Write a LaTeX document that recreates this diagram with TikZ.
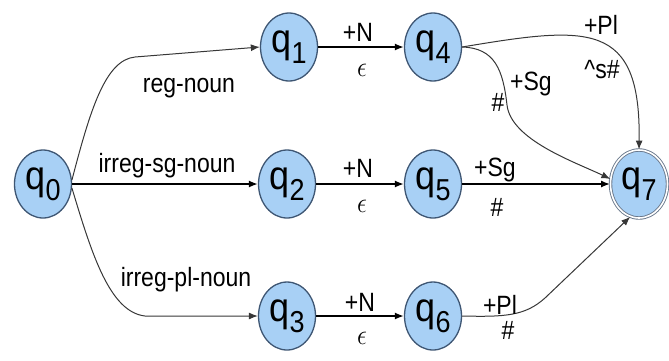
\documentclass[tikz,border=0pt]{standalone}
\usepackage{fontspec}
\setmainfont{Liberation Sans}
\usetikzlibrary{shapes.geometric,arrows.meta}
\definecolor{nodefill}{RGB}{168,208,245}
\definecolor{nodeline}{RGB}{62,86,115}
\definecolor{ringline}{RGB}{105,120,140}
\definecolor{curveline}{RGB}{55,55,55}
\newcommand\qsub[1]{\scalebox{1}[1.12]{\fontsize{36}{36}\selectfont q\raisebox{-10pt}{\fontsize{27}{27}\selectfont #1}}}
\newcommand\tall[1]{\scalebox{1}[1.15]{#1}}
\begin{document}
\begin{tikzpicture}[x=1pt,y=-1pt,
 state/.style={ellipse, draw=nodeline, line width=1.3pt, fill=nodefill, minimum width=57pt, minimum height=68pt, inner sep=0pt},
 accept/.style={state, draw=ringline, double=white, double distance=1.6pt, line width=0.9pt},
 lab/.style={font=\fontsize{23}{23}\selectfont, inner sep=0pt},
 straight/.style={line width=1.5pt, -{Latex[length=9pt,width=7pt]}},
 curvy/.style={line width=1pt, curveline, -{Latex[length=9pt,width=7pt]}}
]
\useasboundingbox (0,0) rectangle (669,360);
\node[state] (q0) at (43,184) {\qsub{0}};
\node[state] (q1) at (289,47) {\qsub{1}};
\node[state] (q2) at (287,184) {\qsub{2}};
\node[state] (q3) at (287,316) {\qsub{3}};
\node[state] (q4) at (433,47) {\qsub{4}};
\node[state] (q5) at (433,184) {\qsub{5}};
\node[state] (q6) at (433,316) {\qsub{6}};
\node[accept] (q7) at (639,184) {\qsub{7}};

\draw[straight] (q0) -- (q2);
\draw[straight] (q1) -- (q4);
\draw[straight] (q2) -- (q5);
\draw[straight] (q3) -- (q6);
\draw[straight] (q5) -- (q7);

\draw[curvy] (q0.8) .. controls (90,111) and (105,60) .. (135,57) -- (q1.west);
\draw[curvy] (q0.-8) .. controls (92,255) and (110,312) .. (145,316) -- (q3.west);
\draw[curvy] (q4.east) .. controls (588,26) and (641,20) .. (q7.north);
\draw[curvy] (q4.east) .. controls (495,48) and (503,70) .. (507,105) .. controls (511,140) and (575,162) .. (q7.170);
\draw[curvy] (q6.east) .. controls (505,317) and (525,316) .. (545,298) -- (q7.255);

\node[lab] (l01) at (189,88) {\tall{reg-noun}};
\node[lab] (l02) at (167,166) {\tall{irreg-sg-noun}};
\node[lab] (l03) at (186,280) {\tall{irreg-pl-noun}};
\node[lab] (n14) at (358,32) {\tall{+N}};
\node[lab] (e14) at (362,70) {\tall{$\epsilon$}};
\node[lab] (n25) at (358,168) {\tall{+N}};
\node[lab] (e25) at (362,206) {\tall{$\epsilon$}};
\node[lab] (n36) at (360,302) {\tall{+N}};
\node[lab] (e36) at (362,338) {\tall{$\epsilon$}};
\node[lab] (pl47) at (601,25) {\tall{+Pl}};
\node[lab] (s47) at (602,70) {\tall{\textasciicircum s\#}};
\node[lab] (sg47) at (531,84) {\tall{+Sg}};
\node[lab] (h47) at (498,102) {\tall{\#}};
\node[lab] (sg57) at (495,170) {\tall{+Sg}};
\node[lab] (h57) at (497,207) {\tall{\#}};
\node[lab] (pl67) at (500,305) {\tall{+Pl}};
\node[lab] (h67) at (508,330) {\tall{\#}};
\end{tikzpicture}
\end{document}
